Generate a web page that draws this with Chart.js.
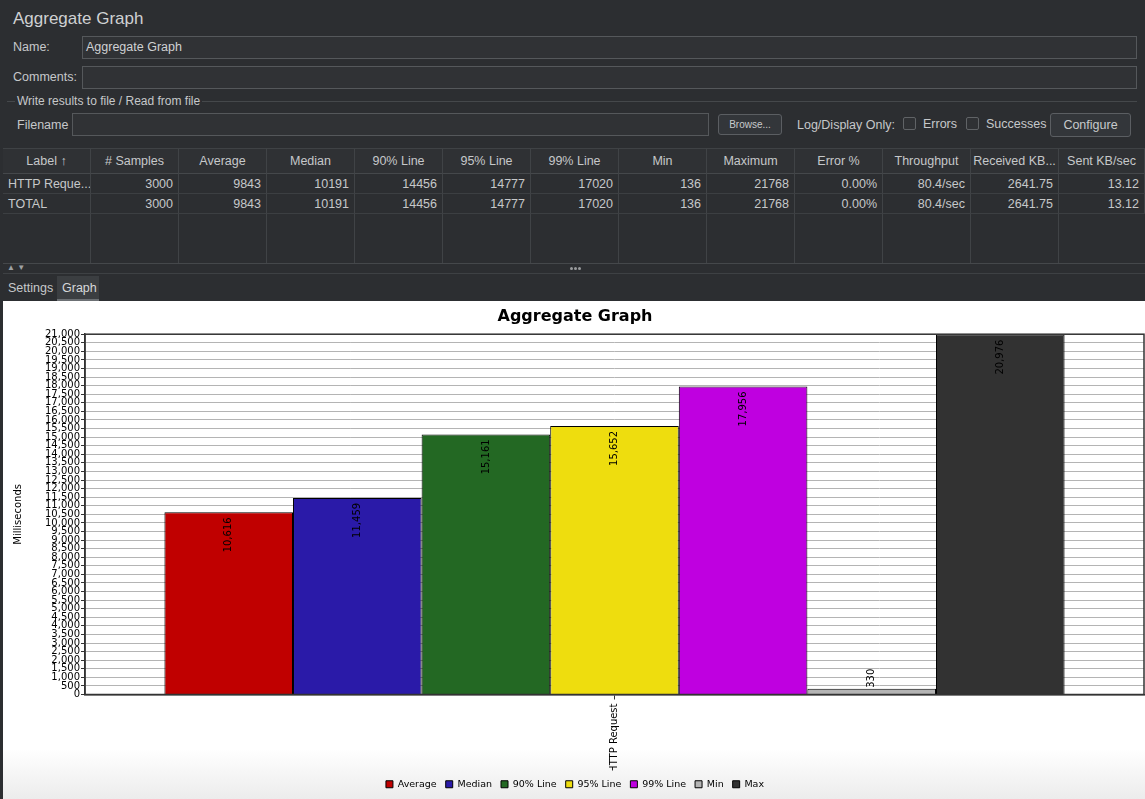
<!DOCTYPE html>
<html>
<head>
<meta charset="utf-8">
<title>Aggregate Graph</title>
<script src="https://cdn.jsdelivr.net/npm/chart.js@4/dist/chart.umd.min.js"></script>
<style>
  html, body { margin: 0; padding: 0; }
  body {
    width: 1145px; height: 799px; overflow: hidden; position: relative;
    background: #2c2e31; color: #c6c8ca;
    font-family: "Liberation Sans", Arial, sans-serif; font-size: 12.5px;
  }
  .abs { position: absolute; white-space: nowrap; }
  .field { position: absolute; background: #303235; border: 1px solid #55585b; box-sizing: border-box; }
  .btn { position: absolute; background: #33363a; border: 1px solid #5b5e62; border-radius: 3px; box-sizing: border-box;
         text-align: center; color: #c8cacc; }
  .chk { position: absolute; width: 13px; height: 13px; border: 1px solid #606366; border-radius: 2px; box-sizing: border-box; background: #2f3134; }
  #table { position: absolute; left: 3px; top: 148px; width: 1142px; height: 115px; border-top: 1px solid #3f4245; }
  .cell { position: absolute; box-sizing: border-box; border-right: 1px solid #404346; padding: 0 5px; line-height: 20px;
          white-space: nowrap; overflow: hidden; }
  .hdr { line-height: 24px; text-align: center; background: #2f3134; border-bottom: 1px solid #45484b; padding: 0 2px; }
  .num { text-align: right; }
  .row { border-bottom: 1px solid #3c3f42; }
  .dot { position: absolute; width: 3px; height: 3px; border-radius: 2px; background: #9a9c9e; }
  #chartBox { position: absolute; left: 3px; top: 301px; width: 1142px; height: 498px;
              background: linear-gradient(to bottom, #ffffff 0%, #ffffff 90%, #ececec 100%); }
</style>
</head>
<body>

<div class="abs" style="left:13px; top:9px; font-size:17px; color:#cfd1d3;">Aggregate Graph</div>

<div class="abs" style="left:13px; top:40px;">Name:</div>
<div class="field" style="left:82px; top:36px; width:1055px; height:23px;"></div>
<div class="abs" style="left:86px; top:40px; color:#cfd1d3;">Aggregate Graph</div>

<div class="abs" style="left:13px; top:70px;">Comments:</div>
<div class="field" style="left:82px; top:66px; width:1055px; height:23px;"></div>

<div class="abs" style="left:7px; top:101px; width:1130px; height:1px; background:#45484b;"></div>
<div class="abs" style="left:15px; top:94px; padding:0 2px; background:#2c2e31; font-size:12px;">Write results to file / Read from file</div>

<div class="abs" style="left:17px; top:118px;">Filename</div>
<div class="field" style="left:72px; top:113px; width:637px; height:23px;"></div>
<div class="btn" style="left:718px; top:114px; width:64px; height:21px; line-height:19px; font-size:10px;">Browse...</div>
<div class="abs" style="left:797px; top:118px;">Log/Display Only:</div>
<div class="chk" style="left:903px; top:117px;"></div>
<div class="abs" style="left:923px; top:117px;">Errors</div>
<div class="chk" style="left:966px; top:117px;"></div>
<div class="abs" style="left:986px; top:117px;">Successes</div>
<div class="btn" style="left:1050px; top:113px; width:81px; height:24px; line-height:22px;">Configure</div>

<div id="table"></div>

<div class="abs" style="left:3px; top:263px; width:1142px; height:1px; background:#45484b;"></div>
<div class="abs" style="left:7px; top:263px; font-size:8px; color:#a0a2a4;">▲ ▼</div>
<div class="dot" style="left:570px; top:267px;"></div>
<div class="dot" style="left:574px; top:267px;"></div>
<div class="dot" style="left:578px; top:267px;"></div>
<div class="abs" style="left:3px; top:273px; width:1142px; height:1px; background:#3e4144;"></div>

<div class="abs" style="left:8px; top:281px;">Settings</div>
<div class="abs" style="left:57px; top:276px; width:42px; height:25px; background:#3b3e41; border-bottom:2px solid #6c7074; box-sizing:border-box;"></div>
<div class="abs" style="left:62px; top:281px; color:#d6d8da;">Graph</div>

<div id="chartBox"><canvas id="myChart"></canvas></div>

<script>
// table shown above the graph
const tableHeaders = ['Label \u2191', '# Samples', 'Average', 'Median', '90% Line', '95% Line', '99% Line',
  'Min', 'Maximum', 'Error %', 'Throughput', 'Received KB...', 'Sent KB/sec'];
const tableRow1 = ['HTTP Reque...', '3000', '9843', '10191', '14456', '14777', '17020', '136', '21768', '0.00%', '80.4/sec', '2641.75', '13.12'];
const tableRow2 = ['TOTAL', '3000', '9843', '10191', '14456', '14777', '17020', '136', '21768', '0.00%', '80.4/sec', '2641.75', '13.12'];

// chart data
const categories = ['HTTP Request'];
const seriesNames = ['Average', 'Median', '90% Line', '95% Line', '99% Line', 'Min', 'Max'];
const seriesValues = [10616, 11459, 15161, 15652, 17956, 330, 20976];
const seriesColors = ['#c00000', '#2a1aa8', '#236823', '#eedd0e', '#bf00e0', '#b4b4b4', '#323232'];
const yMax = 21000;
const yStep = 500;

function buildTable(){
  let t = document.getElementById('table');
  let colW = 88;
  let html = '';
  tableHeaders.forEach((h, i) => {
    let w = i == tableHeaders.length - 1 ? 1142 - colW * i : colW;
    html += '<div class="cell hdr" style="left:' + (i * colW) + 'px;top:0;width:' + w + 'px;height:25px;">' + h + '</div>';
  });
  [tableRow1, tableRow2].forEach((row, r) => {
    row.forEach((v, i) => {
      let w = i == row.length - 1 ? 1142 - colW * i : colW;
      let cls = i == 0 ? 'cell row' : 'cell row num';
      html += '<div class="' + cls + '" style="left:' + (i * colW) + 'px;top:' + (25 + r * 20) + 'px;width:' + w + 'px;height:20px;">' + v + '</div>';
    });
  });
  // empty area with column lines
  tableHeaders.forEach((h, i) => {
    html += '<div class="cell" style="left:' + (i * colW) + 'px;top:65px;width:' + colW + 'px;height:50px;"></div>';
  });
  t.innerHTML = html;
}

// draws the value on each bar, rotated
const barValues = {
  id: 'barValues',
  afterDatasetsDraw(chart){
    let ctx = chart.ctx;
    ctx.save();
    ctx.font = '10px "DejaVu Sans"';
    ctx.fillStyle = '#000';
    ctx.textBaseline = 'middle';
    chart.data.datasets.forEach((ds, i) => {
      let meta = chart.getDatasetMeta(i);
      meta.data.forEach((bar, j) => {
        let txt = ds.data[j].toLocaleString('en-US');
        let w = ctx.measureText(txt).width;
        ctx.save();
        if (bar.base - bar.y > w + 10) {
          ctx.translate(bar.x, bar.y + 5);
          ctx.rotate(-Math.PI / 2);
          ctx.textAlign = 'right';
        } else {
          ctx.translate(bar.x, bar.y - 1);
          ctx.rotate(-Math.PI / 2);
          ctx.textAlign = 'left';
        }
        ctx.fillText(txt, 0, 0);
        ctx.restore();
      });
    });
    ctx.restore();
  }
};

// frame round the plot
const plotFrame = {
  id: 'plotFrame',
  afterDraw(chart){
    let a = chart.chartArea;
    let ctx = chart.ctx;
    ctx.save();
    ctx.strokeStyle = '#333';
    ctx.lineWidth = 1.5;
    ctx.strokeRect(a.left, a.top, a.right - a.left, a.bottom - a.top);
    ctx.restore();
  }
};

function CreateChart(){
  let datasets = seriesNames.map((name, i) => ({
    label: name,
    data: [seriesValues[i]],
    backgroundColor: seriesColors[i],
    borderColor: '#000',
    borderWidth: 1,
    categoryPercentage: 0.85,
    barPercentage: 1.0
  }));

  return new Chart(document.getElementById('myChart'), {
    type: 'bar',
    data: { labels: categories, datasets: datasets },
    plugins: [barValues, plotFrame],
    options: {
      responsive: true,
      maintainAspectRatio: false,
      animation: false,
      layout: { padding: { left: 3, right: 1, top: 0, bottom: 0 } },
      plugins: {
        title: {
          display: true,
          text: 'Aggregate Graph',
          color: '#000',
          font: { family: 'DejaVu Sans', size: 16, weight: 'bold' },
          padding: { top: 6, bottom: 8 }
        },
        legend: {
          position: 'bottom',
          labels: {
            color: '#000',
            boxWidth: 7,
            boxHeight: 7,
            padding: 9,
            font: { family: 'DejaVu Sans', size: 9.5 }
          }
        },
        tooltip: { enabled: false }
      },
      scales: {
        x: {
          afterFit: (scale) => { scale.height = 76; },
          grid: { display: true, drawOnChartArea: false, offset: false, tickLength: 5, color: '#333' },
          border: { color: '#333', width: 1.5 },
          ticks: {
            color: '#000', maxRotation: 90, minRotation: 90, padding: 4,
            font: { family: 'DejaVu Sans', size: 10 }
          }
        },
        y: {
          min: 0,
          max: yMax,
          afterFit: (scale) => { scale.width = 79; },
          grid: { color: '#b4b4b4', tickColor: '#333', tickLength: 4, lineWidth: 1 },
          border: { color: '#333', width: 1.5 },
          title: {
            display: true, text: 'Milliseconds', color: '#000',
            font: { family: 'DejaVu Sans', size: 10 }, padding: { top: 6, bottom: 0 }
          },
          ticks: {
            stepSize: yStep, autoSkip: false, color: '#000', padding: 1,
            font: { family: 'DejaVu Sans', size: 10 },
            callback: (v) => v.toLocaleString('en-US')
          }
        }
      }
    }
  });
}

buildTable();
CreateChart();
</script>
</body>
</html>
